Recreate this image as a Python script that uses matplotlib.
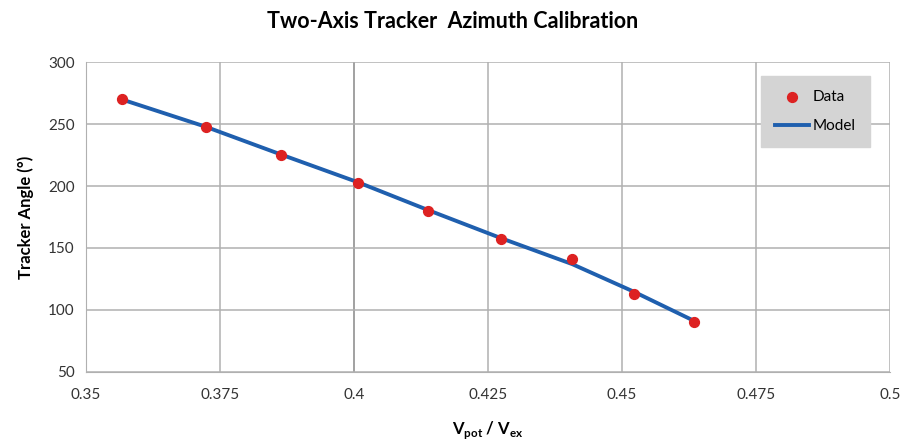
import numpy as np
import matplotlib.pyplot as plt

# Measured calibration points
v_ratio = [0.3567, 0.3723, 0.3864, 0.4008, 0.4139, 0.4274, 0.4407, 0.4523, 0.4635]
angle = [270, 247.5, 225, 202.5, 180, 157.5, 141, 113, 90]

# Fitted model
model_x = [0.3567, 0.3723, 0.3864, 0.4008, 0.4139, 0.4274, 0.4407, 0.4523, 0.4635]
model_y = [270, 248, 225.5, 203, 180.5, 158, 137, 114.5, 91]

x_ticks = [0.35, 0.375, 0.4, 0.425, 0.45, 0.475, 0.5]
x_labels = ["0.35", "0.375", "0.4", "0.425", "0.45", "0.475", "0.5"]
y_ticks = [50, 100, 150, 200, 250, 300]

plt.rcParams['font.family'] = ['Lato', 'DejaVu Sans']

fig = plt.figure(figsize=(9.06, 4.41), dpi=100)
ax = fig.add_axes([0.0949, 0.157, 0.8874, 0.7017])

ax.plot(model_x, model_y, color='#1f5fae', lw=2.8, label='Model', zorder=2)
ax.scatter(v_ratio, angle, s=50, color='#dd2222', label='Data', zorder=3)

ax.set_xlim(0.35, 0.5)
ax.set_ylim(50, 300)
ax.set_xticks(x_ticks)
ax.set_xticklabels(x_labels)
ax.set_yticks(y_ticks)
ax.tick_params(length=0, labelsize=11, colors='#333333', pad=12)
ax.tick_params(axis='y', pad=8)

# gridlines, with the y-axis crossing at 0.4 drawn darker
ax.grid(True, color='#b0b0b0', lw=1.1)
ax.axvline(0.4, color='#555555', lw=1.1, zorder=1)
for s in ax.spines.values():
    s.set_visible(False)
ax.spines['left'].set_visible(True)
ax.spines['left'].set_color('#b0b0b0')
ax.spines['bottom'].set_visible(True)
ax.spines['bottom'].set_color('#b0b0b0')

ax.set_xlabel(r'V$_{\mathregular{pot}}$ / V$_{\mathregular{ex}}$', fontsize=12, fontweight='bold', labelpad=12)
ax.set_ylabel('Tracker Angle (°)', fontsize=12, fontweight='bold', labelpad=10)
fig.suptitle('Two-Axis Tracker  Azimuth Calibration', fontsize=15.5, fontweight='bold', y=0.975)

handles, labels = ax.get_legend_handles_labels()
leg = ax.legend(handles[::-1], labels[::-1], loc='upper right', bbox_to_anchor=(0.975, 0.955),
                borderaxespad=0, frameon=True, fancybox=False, fontsize=11, handlelength=2.2,
                borderpad=0.9, labelspacing=1.0, handletextpad=0.3)
leg.get_frame().set_facecolor('#d4d4d4')
leg.get_frame().set_edgecolor('#d4d4d4')
leg.get_frame().set_alpha(1)

fig.savefig('out.png', dpi=100)
